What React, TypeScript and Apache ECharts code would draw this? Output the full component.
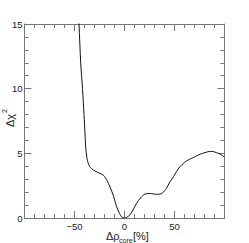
import React, { useEffect, useRef } from "react";
import * as echarts from "echarts";

const deltaRho: number[] = [
  -46.2, -45.5, -43.8, -42, -40.5, -39.5, -38.8, -37.5, -35, -31, -26, -21, -17.5, -14.5, -11, -8, -5, -2.5, -0.5,
  2, 5.5, 9, 12, 16, 20.5, 25, 29, 33, 37, 40, 42, 45.5, 49, 52, 55.5, 60, 64, 68, 72, 76, 80.5, 85, 89, 92, 95.5, 100,
];
const deltaChi2: number[] = [
  16, 15, 12, 10, 8, 6.5, 5.5, 4.6, 4.0, 3.7, 3.5, 3.3, 2.9, 2.4, 1.7, 0.9, 0.35, 0.04, 0,
  0.04, 0.25, 0.7, 1.13, 1.55, 1.85, 1.9, 1.86, 1.83, 1.88, 2.1, 2.3, 2.8, 3.2, 3.6, 3.97, 4.3, 4.5, 4.65, 4.8, 4.95, 5.05, 5.15, 5.13, 5.05, 4.95, 4.7,
];
const xTicks = { min: -100, max: 100, interval: 50 };
const yTicks = { min: 0, max: 15, interval: 5 };

const AXIS_COLOR = "#777";
const TEXT_COLOR = "#222";
const FONT = "'Liberation Sans', Arial, sans-serif";

export default function App() {
  const ref = useRef<HTMLDivElement>(null);
  useEffect(() => {
    document.body.style.margin = "0";
    const chart = echarts.init(ref.current!, null, { renderer: "svg" });
    const axisCommon = (showLabels: boolean) => ({
      axisLine: { show: true, onZero: false, lineStyle: { color: AXIS_COLOR, width: 1 } },
      axisTick: { show: true, inside: true, length: 7, lineStyle: { color: AXIS_COLOR } },
      minorTick: { show: true, splitNumber: 5, length: 4, lineStyle: { color: AXIS_COLOR } },
      splitLine: { show: false },
      minorSplitLine: { show: false },
      axisLabel: {
        show: showLabels,
        color: TEXT_COLOR,
        fontFamily: FONT,
        fontSize: 9.5,
      } as any,
    });
    const xa = (pos: string, labels: boolean) => {
      const c: any = axisCommon(labels);
      c.axisLabel.margin = 3;
      c.axisLabel.showMinLabel = false;
      c.axisLabel.showMaxLabel = false;
      c.axisLabel.formatter = (v: number) => (v < 0 ? "\u2212" + Math.abs(v) : String(v));
      return { type: "value", position: pos, ...xTicks, ...c };
    };
    const ya = (pos: string, labels: boolean) => {
      const c: any = axisCommon(labels);
      c.axisLabel.margin = 2;
      return { type: "value", position: pos, ...yTicks, ...c };
    };
    chart.setOption({
      animation: false,
      grid: { left: 24.5, right: 24.5, top: 24, bottom: 25, containLabel: false },
      xAxis: [xa("bottom", true), xa("top", false)],
      yAxis: [ya("left", true), ya("right", false)],
      series: [
        {
          type: "line",
          xAxisIndex: 0,
          yAxisIndex: 0,
          data: deltaRho.map((x, i) => [x, deltaChi2[i]]),
          smooth: 0.3,
          showSymbol: false,
          clip: true,
          lineStyle: { color: "#111", width: 1 },
        },
      ],
      graphic: [
        { type: "text", x: 106, y: 235.6, style: { text: "Δρ", font: `11px ${FONT}`, fill: TEXT_COLOR, verticalAlign: "middle", align: "left" } },
        { type: "text", x: 119, y: 240.5, style: { text: "core", font: `7px ${FONT}`, fill: TEXT_COLOR, verticalAlign: "middle", align: "left" } },
        { type: "text", x: 133, y: 235.8, style: { text: "[%]", font: `11px ${FONT}`, fill: TEXT_COLOR, verticalAlign: "middle", align: "left" } },
        {
          type: "group",
          x: 9.5,
          y: 118,
          rotation: Math.PI / 2,
          children: [
            { type: "text", x: -9, y: 0, style: { text: "Δχ", font: `11px ${FONT}`, fill: TEXT_COLOR, verticalAlign: "middle", align: "left" } },
            { type: "text", x: 5, y: -5, style: { text: "2", font: `7px ${FONT}`, fill: TEXT_COLOR, verticalAlign: "middle", align: "left" } },
          ],
        },
      ],
    });
    return () => chart.dispose();
  }, []);
  return <div ref={ref} style={{ width: 249, height: 243 }} />;
}
